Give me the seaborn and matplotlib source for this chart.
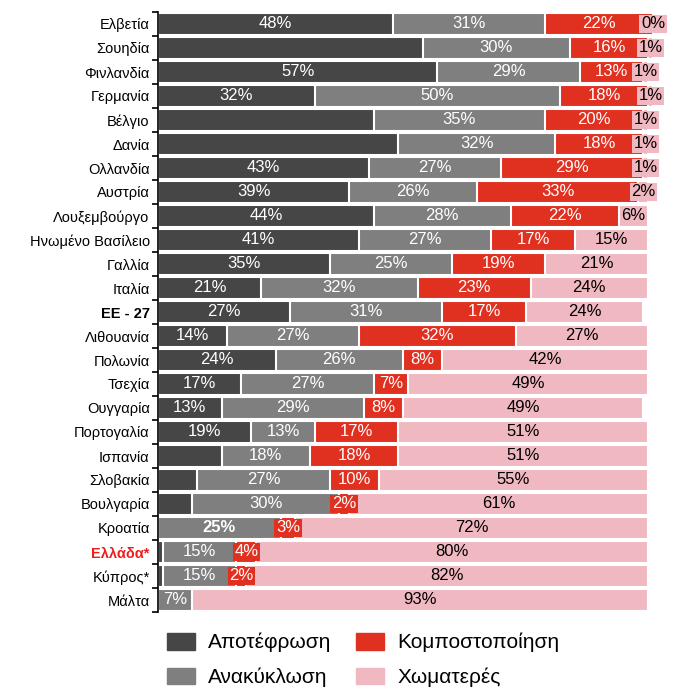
import matplotlib
matplotlib.use("Agg")
import matplotlib.pyplot as plt
import matplotlib.patches as mpatches
import numpy as np
import pandas as pd
import seaborn as sns

countries = ["Ελβετία", "Σουηδία", "Φινλανδία", "Γερμανία", "Βέλγιο", "Δανία",
             "Ολλανδία", "Αυστρία", "Λουξεμβούργο", "Ηνωμένο Βασίλειο", "Γαλλία",
             "Ιταλία", "ΕΕ - 27", "Λιθουανία", "Πολωνία", "Τσεχία", "Ουγγαρία",
             "Πορτογαλία", "Ισπανία", "Σλοβακία", "Βουλγαρία", "Κροατία",
             "Ελλάδα*", "Κύπρος*", "Μάλτα"]
incineration = [48, 54, 57, 32, 44, 49, 43, 39, 44, 41, 35, 21, 27, 14, 24, 17, 13,
                19, 13, 8, 7, 0, 1, 1, 0]
recycling = [31, 30, 29, 50, 35, 32, 27, 26, 28, 27, 25, 32, 31, 27, 26, 27, 29,
             13, 18, 27, 30, 25, 15, 15, 7]
composting = [22, 16, 13, 18, 20, 18, 29, 33, 22, 17, 19, 23, 17, 32, 8, 7, 8,
              17, 18, 10, 2, 3, 4, 2, 0]
landfill = [0, 1, 1, 1, 1, 1, 1, 2, 6, 15, 21, 24, 24, 27, 42, 49, 49,
            51, 51, 55, 61, 72, 80, 82, 93]
# which incineration values carry a label in the original
incineration_shown = [1, 0, 1, 1, 0, 0, 1, 1, 1, 1, 1, 1, 1, 1, 1, 1, 1,
                      1, 0, 0, 0, 0, 0, 0, 0]

series_names = ["Αποτέφρωση", "Ανακύκλωση", "Κομποστοποίηση", "Χωματερές"]
colors = ["#464646", "#7f7f7f", "#e03020", "#f0b8c1"]
text_colors = ["white", "white", "white", "black"]

df = pd.DataFrame({"country": countries, "Αποτέφρωση": incineration,
                   "Ανακύκλωση": recycling, "Κομποστοποίηση": composting,
                   "Χωματερές": landfill})
cum = df[series_names].cumsum(axis=1)

plt.rcParams["font.family"] = ["Liberation Sans", "DejaVu Sans"]
fig = plt.figure(figsize=(6.73, 6.92), dpi=100)
ax = fig.add_axes([158 / 673, 80 / 692, 500 / 673, 600 / 692])

# stacked bars: draw the cumulative totals, longest first
for name, col in reversed(list(zip(series_names, colors))):
    sns.barplot(x=cum[name], y=df["country"], color=col, saturation=1, orient="h",
                width=0.92, edgecolor="white", linewidth=1.5, ax=ax)

# segment labels
for i in range(len(countries)):
    start = 0
    for j, name in enumerate(series_names):
        val = df[name][i]
        show = val > 0 or j == 3
        if j == 0 and not incineration_shown[i]:
            show = False
        if show:
            weight = "bold" if countries[i] == "Κροατία" and j == 1 else "normal"
            ax.text(start + val / 2, i, f"{val}%", ha="center", va="center",
                    fontsize=12, color=text_colors[j], fontweight=weight,
                    bbox=dict(boxstyle="square,pad=0.1", fc=colors[j], ec="none"))
        start += val

ax.set_xlim(0, 102)
ax.set_ylim(len(countries) - 0.5, -0.5)
ax.set_xlabel("")
ax.set_ylabel("")
ax.xaxis.set_visible(False)
for s in ["top", "right", "bottom"]:
    ax.spines[s].set_visible(False)
ax.spines["left"].set_linewidth(1.2)
ax.tick_params(axis="y", which="major", length=0, labelsize=10.5, pad=6)
ax.set_yticks(np.arange(-0.5, len(countries), 1), minor=True)
ax.tick_params(axis="y", which="minor", length=4, width=1.2, direction="out")

for lab in ax.get_yticklabels():
    if lab.get_text() == "ΕΕ - 27":
        lab.set_fontweight("bold")
    if lab.get_text() == "Ελλάδα*":
        lab.set_fontweight("bold")
        lab.set_color("#ee1c1c")

handles = [mpatches.Patch(color=c, label=n) for n, c in zip(series_names, colors)]
fig.legend(handles, series_names,
           ncol=2, loc="upper left", bbox_to_anchor=(148 / 673, 1 - 614 / 692),
           frameon=False, fontsize=15, handlelength=1.35, handleheight=0.87,
           columnspacing=1.2, labelspacing=0.73, handletextpad=0.62)

fig.savefig("out.png", dpi=100)
